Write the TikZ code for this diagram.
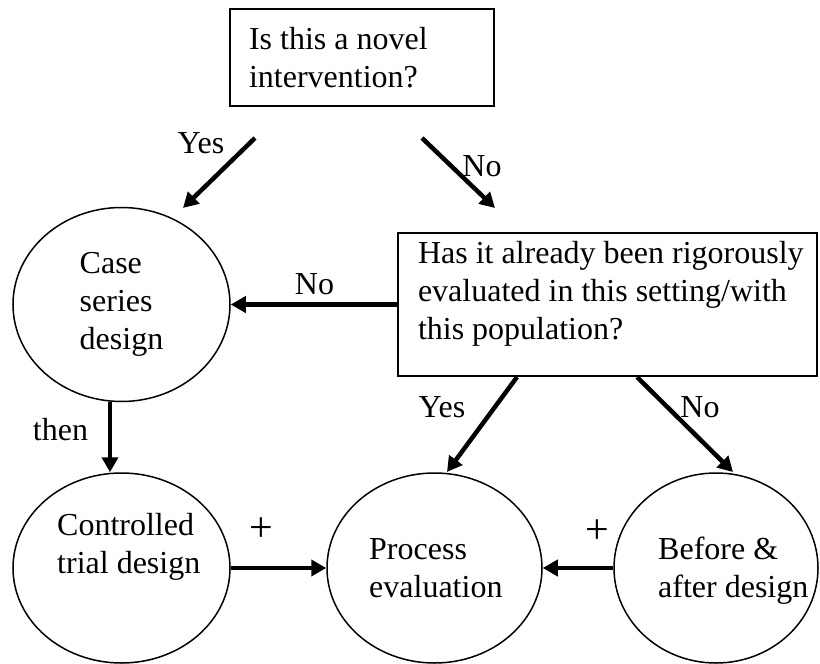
\documentclass[tikz,border=0pt]{standalone}
\usepackage{fontspec}
\setmainfont{Liberation Serif}
\usetikzlibrary{arrows.meta,shapes.geometric}
\begin{document}
\begin{tikzpicture}[x=1pt,y=-1pt,
  every node/.style={font=\fontsize{32}{38}\selectfont},
  qbox/.style={draw, line width=1.5pt, rectangle, align=left, inner ysep=0pt},
  ell/.style={draw, line width=1.5pt, ellipse, inner sep=0pt},
  txt/.style={align=left, inner sep=0pt},
  lbl/.style={inner sep=0pt, anchor=base},
  plus/.style={inner sep=0pt, anchor=center, font=\fontsize{42}{42}\selectfont},
  arr/.style={line width=4.5pt, -{Triangle[length=15pt,width=16pt]}}
]
\useasboundingbox (0,0) rectangle (820,664);

% question boxes
\node[qbox, text width=226pt, inner xsep=19pt, minimum width=264pt, minimum height=97pt]
  (q1) at (362,57.5) {\spaceskip=0pt\relax Is this a novel\\intervention?};
\node[qbox, text width=379pt, inner xsep=20pt, minimum width=419pt, minimum height=143pt]
  (q2) at (607.5,304.5) {\spaceskip=0pt\relax\mbox{Has it already been rigorously}\\\mbox{evaluated in this setting/with}\\\mbox{this population?}\rule[-29pt]{0pt}{0pt}};

% design ellipses
\node[ell, minimum width=217pt, minimum height=194pt, align=left] (case) at (121.5,304.5) {Case\\series\\design};
\node[ell, minimum width=217pt, minimum height=190pt] (ct) at (121.5,568) {};
\node[txt, anchor=north west] (ctt) at (57,513) {Controlled\\trial design};
\node[ell, minimum width=215pt, minimum height=190pt] (pe) at (434.5,568) {};
\node[txt, anchor=north west] (pet) at (369,538) {Process\\evaluation};
\node[ell, minimum width=204pt, minimum height=190pt] (ba) at (716,568) {};
\node[txt, anchor=north west] (bat) at (658,537) {Before \&\\after design};

% free arrow ends
\coordinate (a1s) at (255,138);
\coordinate (a1e) at (183,208);
\coordinate (a2s) at (422,138);
\coordinate (a2e) at (495,208);
\coordinate (a3s) at (517,377);
\coordinate (a3e) at (447,472);
\coordinate (a4s) at (637,377);
\coordinate (a4e) at (733,472);

% connectors
\draw[arr] (a1s) -- (a1e);
\draw[arr] (a2s) -- (a2e);
\draw[arr] (q2.west) -- (case.east);
\draw[arr] (a3s) -- (a3e);
\draw[arr] (a4s) -- (a4e);
\draw[arr] ([xshift=-11.5pt]case.south) -- ([xshift=-11.5pt]ct.north);
\draw[arr] (ct.east) -- (pe.west);
\draw[arr] (ba.west) -- (pe.east);

% labels
\node[lbl] (l1) at (201,153) {Yes};
\node[lbl] (l2) at (482,176) {No};
\node[lbl] (l3) at (314.5,294) {No};
\node[lbl] (l4) at (442,417) {Yes};
\node[lbl] (l5) at (700,417) {No};
\node[lbl] (l6) at (60.5,440) {then};
\node[plus] (p1) at (261.5,530) {+};
\node[plus] (p2) at (597.5,531.5) {+};
\end{tikzpicture}
\end{document}
